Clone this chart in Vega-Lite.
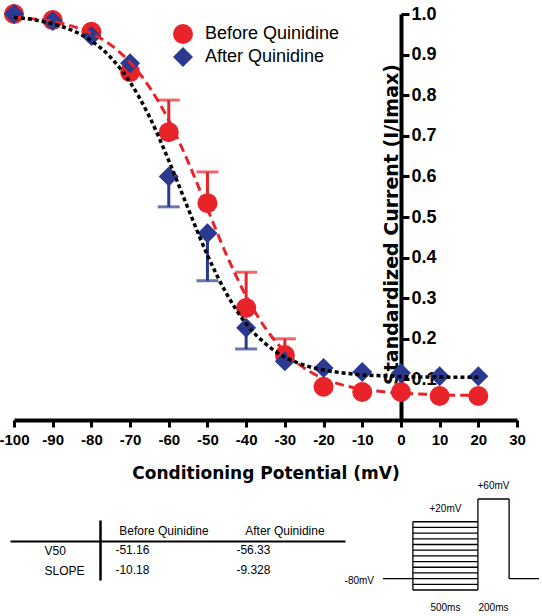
{
  "$schema": "https://vega.github.io/schema/vega-lite/v6.json",
  "autosize": "none",
  "width": 503,
  "height": 406,
  "padding": {"left": 14, "top": 14, "right": 25, "bottom": 196},
  "background": "white",
  "config": {"view": {"stroke": null}, "font": "Liberation Sans", "axis": {"grid": false}},
  "datasets": {
    "points": [
      {"V": -100, "I": 1.0, "series": "Before Quinidine"},
      {"V": -90, "I": 0.985, "series": "Before Quinidine"},
      {"V": -80, "I": 0.956, "series": "Before Quinidine"},
      {"V": -70, "I": 0.857, "series": "Before Quinidine"},
      {"V": -60, "I": 0.709, "series": "Before Quinidine"},
      {"V": -50, "I": 0.534, "series": "Before Quinidine"},
      {"V": -40, "I": 0.276, "series": "Before Quinidine"},
      {"V": -30, "I": 0.16, "series": "Before Quinidine"},
      {"V": -20, "I": 0.082, "series": "Before Quinidine"},
      {"V": -10, "I": 0.069, "series": "Before Quinidine"},
      {"V": 0, "I": 0.069, "series": "Before Quinidine"},
      {"V": 10, "I": 0.059, "series": "Before Quinidine"},
      {"V": 20, "I": 0.059, "series": "Before Quinidine"},
      {"V": -100, "I": 1.0, "series": "After Quinidine"},
      {"V": -90, "I": 0.983, "series": "After Quinidine"},
      {"V": -80, "I": 0.946, "series": "After Quinidine"},
      {"V": -70, "I": 0.879, "series": "After Quinidine"},
      {"V": -60, "I": 0.6, "series": "After Quinidine"},
      {"V": -50, "I": 0.46, "series": "After Quinidine"},
      {"V": -40, "I": 0.227, "series": "After Quinidine"},
      {"V": -30, "I": 0.145, "series": "After Quinidine"},
      {"V": -20, "I": 0.128, "series": "After Quinidine"},
      {"V": -10, "I": 0.118, "series": "After Quinidine"},
      {"V": 0, "I": 0.116, "series": "After Quinidine"},
      {"V": 10, "I": 0.108, "series": "After Quinidine"},
      {"V": 20, "I": 0.108, "series": "After Quinidine"}
    ],
    "errBefore": [
      {"V": -60, "I": 0.709, "end": 0.788},
      {"V": -50, "I": 0.534, "end": 0.611},
      {"V": -40, "I": 0.276, "end": 0.364},
      {"V": -30, "I": 0.16, "end": 0.2}
    ],
    "errAfter": [
      {"V": -60, "I": 0.6, "end": 0.525},
      {"V": -50, "I": 0.46, "end": 0.343},
      {"V": -40, "I": 0.227, "end": 0.175}
    ],
    "fitBefore": [
      {"V": -100, "I": 0.993}, {"V": -95, "I": 0.988}, {"V": -90, "I": 0.982}, {"V": -85, "I": 0.97},
      {"V": -80, "I": 0.952}, {"V": -75, "I": 0.924}, {"V": -70, "I": 0.881}, {"V": -65, "I": 0.82},
      {"V": -60, "I": 0.738}, {"V": -55, "I": 0.636}, {"V": -50, "I": 0.52}, {"V": -45, "I": 0.405},
      {"V": -40, "I": 0.305}, {"V": -35, "I": 0.226}, {"V": -30, "I": 0.168}, {"V": -25, "I": 0.128},
      {"V": -20, "I": 0.102}, {"V": -15, "I": 0.086}, {"V": -10, "I": 0.076}, {"V": -5, "I": 0.07},
      {"V": 0, "I": 0.066}, {"V": 5, "I": 0.064}, {"V": 10, "I": 0.062}, {"V": 15, "I": 0.061}, {"V": 20, "I": 0.061}
    ],
    "fitAfter": [
      {"V": -100, "I": 0.992}, {"V": -95, "I": 0.986}, {"V": -90, "I": 0.976}, {"V": -85, "I": 0.96},
      {"V": -80, "I": 0.934}, {"V": -75, "I": 0.893}, {"V": -70, "I": 0.832}, {"V": -65, "I": 0.747},
      {"V": -60, "I": 0.639}, {"V": -55, "I": 0.521}, {"V": -50, "I": 0.406}, {"V": -45, "I": 0.31},
      {"V": -40, "I": 0.237}, {"V": -35, "I": 0.188}, {"V": -30, "I": 0.155}, {"V": -25, "I": 0.135},
      {"V": -20, "I": 0.123}, {"V": -15, "I": 0.116}, {"V": -10, "I": 0.111}, {"V": -5, "I": 0.109},
      {"V": 0, "I": 0.107}, {"V": 5, "I": 0.106}, {"V": 10, "I": 0.106}, {"V": 15, "I": 0.105}, {"V": 20, "I": 0.105}
    ],
    "table": [
      {"row": "V50", "col": "Before Quinidine", "val": "-51.16"},
      {"row": "V50", "col": "After Quinidine", "val": "-56.33"},
      {"row": "SLOPE", "col": "Before Quinidine", "val": "-10.18"},
      {"row": "SLOPE", "col": "After Quinidine", "val": "-9.328"}
    ],
    "protocol": [
      {"t1": 0, "t2": 230, "v1": -80, "v2": -80},
      {"t1": 230, "t2": 730, "v1": -100, "v2": -100},
      {"t1": 230, "t2": 730, "v1": -90, "v2": -90},
      {"t1": 230, "t2": 730, "v1": -80, "v2": -80},
      {"t1": 230, "t2": 730, "v1": -70, "v2": -70},
      {"t1": 230, "t2": 730, "v1": -60, "v2": -60},
      {"t1": 230, "t2": 730, "v1": -50, "v2": -50},
      {"t1": 230, "t2": 730, "v1": -40, "v2": -40},
      {"t1": 230, "t2": 730, "v1": -30, "v2": -30},
      {"t1": 230, "t2": 730, "v1": -20, "v2": -20},
      {"t1": 230, "t2": 730, "v1": -10, "v2": -10},
      {"t1": 230, "t2": 730, "v1": 0, "v2": 0},
      {"t1": 230, "t2": 730, "v1": 10, "v2": 10},
      {"t1": 230, "t2": 730, "v1": 20, "v2": 20},
      {"t1": 230, "t2": 230, "v1": -100, "v2": 20},
      {"t1": 730, "t2": 730, "v1": -100, "v2": 60},
      {"t1": 730, "t2": 970, "v1": 60, "v2": 60},
      {"t1": 970, "t2": 970, "v1": 60, "v2": -80},
      {"t1": 970, "t2": 1200, "v1": -80, "v2": -80}
    ],
    "protoLeft": [{"label": "-80mV", "t": 0, "v": -80}],
    "protoAbove": [{"label": "+20mV", "t": 480, "v": 20}, {"label": "+60mV", "t": 850, "v": 60}],
    "protoBelow": [{"label": "500ms", "t": 480, "v": -100}, {"label": "200ms", "t": 850, "v": -100}]
  },
  "layer": [
    {
      "encoding": {
        "x": {"field": "V", "type": "quantitative", "scale": {"domain": [-100, 30], "nice": false, "zero": false},
          "axis": {"orient": "bottom", "values": [-100, -90, -80, -70, -60, -50, -40, -30, -20, -10, 0, 10, 20, 30],
            "tickCount": 14, "labelExpr": "'' + datum.value", "labelFlush": false, "labelOverlap": false,
            "tickSize": 7, "tickWidth": 3, "tickColor": "black", "domainWidth": 4, "domainColor": "black",
            "labelFontSize": 15, "labelFontWeight": "bold", "labelColor": "black", "labelPadding": 5,
            "title": "Conditioning Potential (mV)", "titleFont": "DejaVu Sans", "titleFontSize": 17,
            "titleFontWeight": "bold", "titleColor": "black", "titlePadding": 18}},
        "y": {"field": "I", "type": "quantitative", "scale": {"domain": [0, 1], "nice": false},
          "axis": {"orient": "right", "offset": -116, "values": [0.1, 0.2, 0.3, 0.4, 0.5, 0.6, 0.7, 0.8, 0.9, 1.0],
            "labelExpr": "format(datum.value, '.1f')", "labelFlush": false, "labelOverlap": false,
            "tickSize": 8, "tickWidth": 3, "tickColor": "black", "domainWidth": 4, "domainColor": "black",
            "labelFontSize": 18, "labelFontWeight": "bold", "labelColor": "black", "labelPadding": 2,
            "title": "Standardized Current (I/Imax)", "titleFont": "DejaVu Sans", "titleFontSize": 19,
            "titleFontWeight": "bold", "titleColor": "black", "titleAngle": 270, "titleX": -4, "titleY": 210,
            "titleAlign": "center", "titleBaseline": "alphabetic"}}
      },
      "layer": [
        {
          "data": {"name": "errBefore"},
          "mark": {"type": "rule", "color": "#E8232A", "strokeWidth": 3},
          "encoding": {"y2": {"field": "end"}}
        },
        {
          "data": {"name": "errBefore"},
          "mark": {"type": "tick", "orient": "horizontal", "color": "#E8232A", "size": 22, "thickness": 3},
          "encoding": {"y": {"field": "end", "type": "quantitative"}}
        },
        {
          "data": {"name": "errAfter"},
          "mark": {"type": "rule", "color": "#2B3990", "strokeWidth": 3},
          "encoding": {"y2": {"field": "end"}}
        },
        {
          "data": {"name": "errAfter"},
          "mark": {"type": "tick", "orient": "horizontal", "color": "#2B3990", "size": 22, "thickness": 3},
          "encoding": {"y": {"field": "end", "type": "quantitative"}}
        },
        {
          "data": {"name": "points"},
          "mark": {"type": "point", "filled": true, "size": 400, "opacity": 1},
          "encoding": {
            "color": {"field": "series", "type": "nominal",
              "scale": {"domain": ["Before Quinidine", "After Quinidine"], "range": ["#E8232A", "#2B3990"]},
              "legend": {"orient": "none", "legendX": 159, "legendY": 10, "title": null, "padding": 0,
                "symbolSize": 400, "labelFontSize": 18, "labelFont": "Liberation Sans", "labelColor": "black",
                "labelOffset": 12, "rowPadding": 3, "symbolStrokeWidth": 0}},
            "shape": {"field": "series", "type": "nominal",
              "scale": {"domain": ["Before Quinidine", "After Quinidine"], "range": ["circle", "diamond"]},
              "legend": {"orient": "none", "legendX": 159, "legendY": 10, "title": null, "padding": 0,
                "symbolSize": 400, "labelFontSize": 18, "labelFont": "Liberation Sans", "labelColor": "black",
                "labelOffset": 12, "rowPadding": 3, "symbolStrokeWidth": 0}}
          }
        },
        {
          "data": {"name": "fitBefore"},
          "mark": {"type": "line", "color": "#E8232A", "strokeWidth": 3, "strokeDash": [9, 5], "interpolate": "monotone"},
          "encoding": {}
        },
        {
          "data": {"name": "fitAfter"},
          "mark": {"type": "line", "color": "black", "strokeWidth": 3.5, "strokeDash": [4, 3], "interpolate": "monotone"},
          "encoding": {}
        }
      ]
    },
    {
      "data": {"name": "table"},
      "mark": {"type": "text", "align": "left", "baseline": "middle", "dx": -48, "fontSize": 12, "color": "black", "font": "Liberation Sans"},
      "encoding": {
        "x": {"field": "col", "type": "nominal",
          "scale": {"type": "point", "domain": ["Before Quinidine", "After Quinidine"], "range": [-4, 331], "padding": 0.884, "align": 0.717},
          "axis": {"orient": "top", "offset": -527, "title": null, "ticks": false, "tickSize": 0, "labelAngle": 0,
            "labelPadding": 4, "labelFontSize": 12, "labelColor": "black", "labelFont": "Liberation Sans",
            "domainWidth": 2, "domainColor": "black"}},
        "y": {"field": "row", "type": "nominal",
          "scale": {"type": "point", "domain": ["header", "V50", "SLOPE"], "range": [506, 566], "padding": 0.5},
          "axis": {"orient": "left", "offset": -86, "title": null, "ticks": false, "tickSize": 0,
            "labelAlign": "left", "labelPadding": 56, "labelBaseline": "middle",
            "labelExpr": "datum.value == 'header' ? '' : datum.value",
            "labelFontSize": 12, "labelColor": "black", "labelFont": "Liberation Sans",
            "domainWidth": 2.5, "domainColor": "black"}},
        "text": {"field": "val"}
      }
    },
    {
      "layer": [
        {
          "data": {"name": "protocol"},
          "mark": {"type": "rule", "color": "black", "strokeWidth": 1.3},
          "encoding": {
            "x": {"field": "t1", "type": "quantitative", "scale": {"domain": [0, 1200], "range": [369, 525], "nice": false, "zero": false}, "axis": null},
            "x2": {"field": "t2"},
            "y": {"field": "v1", "type": "quantitative", "scale": {"domain": [-100, 60], "range": [576, 485], "nice": false, "zero": false}, "axis": null},
            "y2": {"field": "v2"}
          }
        },
        {
          "data": {"name": "protoLeft"},
          "mark": {"type": "text", "align": "right", "baseline": "middle", "dx": -9, "dy": 2, "fontSize": 10, "color": "black"},
          "encoding": {
            "x": {"field": "t", "type": "quantitative"},
            "y": {"field": "v", "type": "quantitative"},
            "text": {"field": "label"}
          }
        },
        {
          "data": {"name": "protoAbove"},
          "mark": {"type": "text", "align": "center", "baseline": "middle", "dy": -13, "fontSize": 10, "color": "black"},
          "encoding": {
            "x": {"field": "t", "type": "quantitative"},
            "y": {"field": "v", "type": "quantitative"},
            "text": {"field": "label"}
          }
        },
        {
          "data": {"name": "protoBelow"},
          "mark": {"type": "text", "align": "center", "baseline": "middle", "dy": 18, "fontSize": 10, "color": "black"},
          "encoding": {
            "x": {"field": "t", "type": "quantitative"},
            "y": {"field": "v", "type": "quantitative"},
            "text": {"field": "label"}
          }
        }
      ]
    }
  ],
  "resolve": {"scale": {"x": "independent", "y": "independent"}}
}
